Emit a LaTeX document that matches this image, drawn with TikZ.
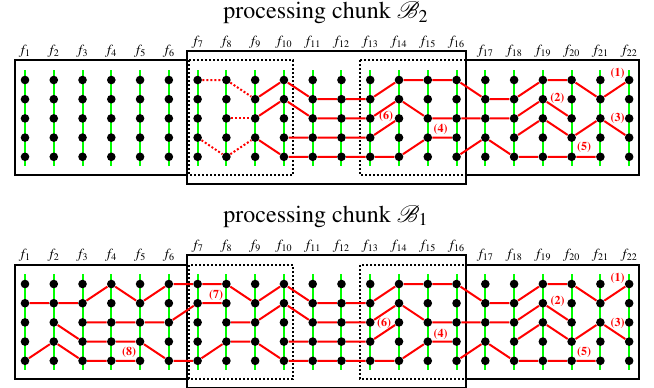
\documentclass[tikz,border=0pt]{standalone}
\usepackage[T1]{fontenc}
\usepackage{mathptmx}
\usepackage{mathrsfs}
\usepackage{xcolor}
\usetikzlibrary{positioning}

\tikzset{
  vtx/.style={circle,fill=black,inner sep=0pt,minimum size=4.3pt},
  stem/.style={draw=green,line width=1pt},
  link/.style={draw=red,line width=1pt},
  guess/.style={link,dash pattern=on 1pt off 1pt},
  chunk/.style={draw=black,line width=1.1pt},
  window/.style={draw=black,line width=1.1pt,dash pattern=on 1pt off 1pt},
  tag/.style={text=red,font=\fontsize{6}{6}\selectfont\bfseries,inner sep=0pt},
  flab/.style={font=\fontsize{7}{8}\selectfont,inner sep=0pt,anchor=base},
  heading/.style={font=\fontsize{12}{14}\selectfont,inner sep=0pt,anchor=base},
}

\begin{document}
\begin{tikzpicture}[x=0.5pt,y=-0.5pt]
  \useasboundingbox (0,0) rectangle (654,387);

  % frames f_1..f_22 for both chunks (t = top, b = bottom)
  \foreach \p/\off in {t/0,b/204}{
    \foreach \i in {1,...,22}{
      \pgfmathsetmacro{\xx}{25+28.77*(\i-1)}
      \pgfmathsetmacro{\yy}{ifthenelse(and(\i>6,\i<17),\off+45,\off+54.5)}
      \node[flab] (\p-f\i) at (\xx,\yy) {$f_{\i}$};
      \draw[stem] (\xx,\off+70) -- (\xx,\off+166);
      \foreach \j in {1,...,5}
        \node[vtx] (\p-\i-\j) at (\xx,{\off+80+19.2*(\j-1)}) {};
    }
  }

  % chunk B_2
  \node[heading] (head-t) at (326,18.5) {processing chunk $\mathscr{B}_2$};
  \draw[chunk] (15,60) rectangle (187,175);
  \draw[chunk] (187,51) rectangle (466,184);
  \draw[chunk] (466,60) rectangle (639,175);
  \draw[window] (189,60) rectangle (293,175);
  \draw[window] (360,60) rectangle (466,175);

  \draw[guess] (t-7-1) -- (t-8-1) -- (t-9-2);
  \draw[guess] (t-8-3) -- (t-9-3);
  \draw[guess] (t-7-4) -- (t-8-5) -- (t-9-4);
  \draw[link] (t-9-2) -- (t-10-1) -- (t-11-2) -- (t-12-2) -- (t-13-2) -- (t-14-1) -- (t-15-1)
    -- (t-16-1) -- (t-17-2) -- (t-18-2) -- (t-19-1) -- (t-20-1) -- (t-21-2) -- (t-22-1);
  \draw[link] (t-9-3) -- (t-10-2) -- (t-11-3) -- (t-12-3) -- (t-13-3) -- (t-14-2) -- (t-15-3)
    -- (t-16-3) -- (t-17-3) -- (t-18-3) -- (t-19-2) -- (t-20-3);
  \draw[link] (t-10-4) -- (t-11-4) -- (t-12-4) -- (t-13-4) -- (t-14-3);
  \draw[link] (t-9-4) -- (t-10-5) -- (t-11-5) -- (t-12-5) -- (t-13-5) -- (t-14-5) -- (t-15-4) -- (t-16-4);
  \draw[link] (t-16-5) -- (t-17-4) -- (t-18-5) -- (t-19-5) -- (t-20-5) -- (t-21-5);
  \draw[link] (t-18-4) -- (t-19-3) -- (t-20-4) -- (t-21-3) -- (t-22-4);

  \node[tag] (t-l1) at (617.7,73.3) {(1)};
  \node[tag] (t-l2) at (557.3,98.3) {(2)};
  \node[tag] (t-l3) at (617.7,118.3) {(3)};
  \node[tag] (t-l4) at (440.7,129) {(4)};
  \node[tag] (t-l5) at (584,147.3) {(5)};
  \node[tag] (t-l6) at (386,116) {(6)};

  % chunk B_1
  \node[heading] (head-b) at (326,222) {processing chunk $\mathscr{B}_1$};
  \draw[chunk] (15,265) rectangle (187,379);
  \draw[chunk] (187,255) rectangle (466,388.5);
  \draw[chunk] (466,265) rectangle (639,379);
  \draw[window] (189,265) rectangle (293,379);
  \draw[window] (360,265) rectangle (466,379);

  \draw[link] (b-1-2) -- (b-2-2) -- (b-3-2) -- (b-4-1) -- (b-5-2) -- (b-6-1) -- (b-7-1) -- (b-8-1)
    -- (b-9-2) -- (b-10-1) -- (b-11-2) -- (b-12-2) -- (b-13-2) -- (b-14-1) -- (b-15-1)
    -- (b-16-1) -- (b-17-2) -- (b-18-2) -- (b-19-1) -- (b-20-1) -- (b-21-2) -- (b-22-1);
  \draw[link] (b-3-3) -- (b-4-3) -- (b-5-3) -- (b-6-3) -- (b-7-2) -- (b-8-2);
  \draw[link] (b-2-3) -- (b-3-4) -- (b-4-4) -- (b-5-4) -- (b-6-5) -- (b-7-5) -- (b-8-4) -- (b-9-4)
    -- (b-10-5) -- (b-11-5) -- (b-12-5) -- (b-13-5) -- (b-14-5) -- (b-15-4) -- (b-16-4);
  \draw[link] (b-1-5) -- (b-2-4) -- (b-3-5) -- (b-4-5) -- (b-5-5);
  \draw[link] (b-8-3) -- (b-9-3) -- (b-10-2) -- (b-11-3) -- (b-12-3) -- (b-13-3) -- (b-14-2) -- (b-15-3)
    -- (b-16-3) -- (b-17-3) -- (b-18-3) -- (b-19-2) -- (b-20-3);
  \draw[link] (b-10-4) -- (b-11-4) -- (b-12-4) -- (b-13-4) -- (b-14-3);
  \draw[link] (b-16-5) -- (b-17-4) -- (b-18-5) -- (b-19-5) -- (b-20-5) -- (b-21-5);
  \draw[link] (b-18-4) -- (b-19-3) -- (b-20-4) -- (b-21-3) -- (b-22-4);

  \node[tag] (b-l1) at (617.7,278.3) {(1)};
  \node[tag] (b-l2) at (557.7,301.7) {(2)};
  \node[tag] (b-l3) at (617.7,323.3) {(3)};
  \node[tag] (b-l4) at (440.7,334) {(4)};
  \node[tag] (b-l5) at (584,352.3) {(5)};
  \node[tag] (b-l6) at (384,323.3) {(6)};
  \node[tag] (b-l7) at (216,295) {(7)};
  \node[tag] (b-l8) at (129,352.3) {(8)};
\end{tikzpicture}
\end{document}
